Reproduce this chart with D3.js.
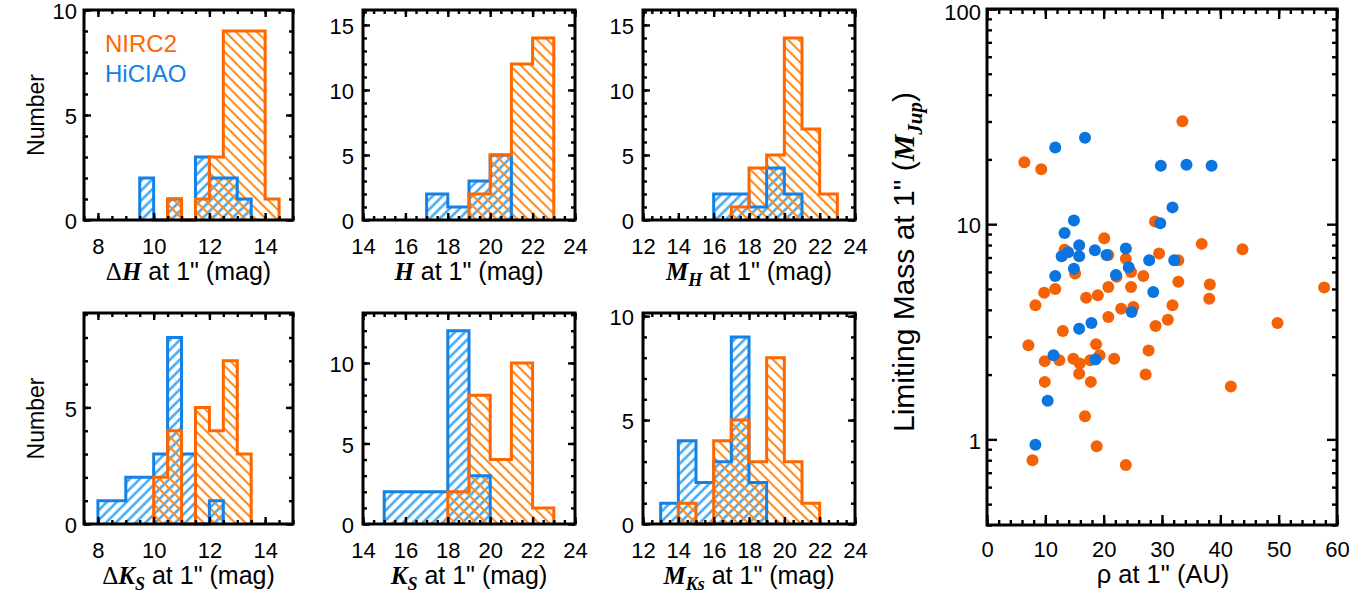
<!DOCTYPE html>
<html>
<head>
<meta charset="utf-8">
<script src="https://cdn.jsdelivr.net/npm/d3@7/dist/d3.min.js"></script>
<style>
  html, body { margin: 0; padding: 0; background: #fff; }
  svg { display: block; }
</style>
</head>
<body>
<svg id="fig" width="1364" height="595"></svg>
<script>
// ---------------- histogram data: bin edges and counts ----------------
// NIRC2 (orange) and HiCIAO (blue) contrast / sensitivity at 1"
const dHEdges  = [9.5, 10, 10.5, 11, 11.5, 12, 12.5, 13, 13.5, 14, 14.5];
const dHNirc2  = [0, 0, 1, 0, 1, 3, 9, 9, 9, 1];
const dHHiciao = [2, 0, 1, 0, 3, 2, 2, 1, 0, 0];

const hEdges   = [17, 18, 19, 20, 21, 22, 23];
const hNirc2   = [0, 0, 2, 5, 12, 14];
const hHiciao  = [2, 1, 3, 5, 0, 0];

const mhEdges  = [16, 17, 18, 19, 20, 21, 22, 23];
const mhNirc2  = [0, 1, 4, 5, 14, 7, 2];
const mhHiciao = [2, 2, 1, 4, 2, 0, 0];

const dKEdges  = [8, 8.5, 9, 9.5, 10, 10.5, 11, 11.5, 12, 12.5, 13, 13.5];
const dKNirc2  = [0, 0, 0, 0, 2, 4, 0, 5, 4, 7, 3];
const dKHiciao = [1, 1, 2, 2, 3, 8, 3, 0, 1, 0, 0];

const kEdges   = [15, 16, 17, 18, 19, 20, 21, 22, 23];
const kNirc2   = [0, 0, 0, 2, 8, 4, 10, 1];
const kHiciao  = [2, 2, 2, 12, 3, 0, 0, 0];

const mkEdges  = [13, 14, 15, 16, 17, 18, 19, 20, 21, 22];
const mkNirc2  = [0, 1, 0, 4, 5, 3, 8, 3, 1];
const mkHiciao = [1, 4, 2, 3, 9, 2, 0, 0, 0];

// axis ticks
const dTicks   = [8, 10, 12, 14];
const hTicks   = [14, 16, 18, 20, 22, 24];
const mTicks   = [12, 14, 16, 18, 20, 22, 24];
const yTicks10 = [0, 5, 10];
const yTicks15 = [0, 5, 10, 15];
const yTicks5  = [0, 5];

// ---------------- scatter: limiting mass vs projected separation ----------------
const nirc2Rho  = [6.4, 9.3, 33.5, 28.8, 20.1, 36.8, 43.8, 13.3, 20.8, 23.8, 29.5, 32.8, 15.1, 24.7,
                   22.2, 26.8, 32.8, 38.2, 57.8, 11.7, 9.8, 20.8, 24.7, 17.0, 19.0, 38.1, 8.3, 23.0,
                   25.1, 31.8, 20.8, 31.0, 49.8, 13.0, 28.9, 7.1, 18.7, 27.7, 9.9, 12.4, 14.8, 15.9,
                   17.7, 19.3, 21.8, 15.8, 27.2, 9.9, 17.8, 41.8, 16.8, 18.8, 7.8, 23.8];
const nirc2Mass = [19.4, 18.0, 30.1, 10.3, 8.6, 8.1, 7.65, 7.6, 7.2, 6.9, 7.3, 6.8, 5.9, 6.0,
                   5.7, 5.75, 5.4, 5.25, 5.08, 5.0, 4.8, 5.1, 5.1, 4.55, 4.67, 4.5, 4.2, 4.05,
                   4.12, 4.2, 3.7, 3.6, 3.47, 3.19, 3.36, 2.74, 2.77, 2.59, 2.31, 2.33, 2.37, 2.25,
                   2.33, 2.46, 2.37, 2.02, 2.0, 1.85, 1.85, 1.76, 1.28, 0.93, 0.80, 0.76];
const hiciaoRho  = [11.7, 16.8, 29.8, 34.2, 38.5, 31.8, 29.7, 14.9, 13.3, 15.8, 12.8, 13.9, 15.8, 18.5,
                    20.5, 23.8, 27.8, 32.1, 14.9, 24.3, 22.1, 11.7, 28.5, 24.8, 15.8, 17.9, 11.4, 18.6,
                    10.4, 8.3];
const hiciaoMass = [22.7, 25.2, 18.7, 18.9, 18.7, 11.97, 10.1, 10.4, 9.1, 7.98, 7.1, 7.4, 7.1, 7.57,
                    7.2, 7.7, 6.8, 6.8, 6.2, 6.3, 5.8, 5.75, 4.84, 3.91, 3.27, 3.47, 2.46, 2.35,
                    1.51, 0.945];
const rhoTicks  = [0, 10, 20, 30, 40, 50, 60];
const massTicks = [1, 10, 100];

// ---------------- styling ----------------
const SANS  = "'Liberation Sans', Arial, Helvetica, sans-serif";
const SERIF = "'Liberation Serif', 'Times New Roman', serif";
const ORANGE = "#ff6600", ORANGE_HATCH = "#ff8a1c";
const BLUE = "#1381e6", BLUE_HATCH = "#3aa4f4";
const PT_ORANGE = "#f46205", PT_BLUE = "#0a74e0";

const svg = d3.select("#fig");
const defs = svg.append("defs");

function hatchPattern(id, color, angle, spacing, width) {
  const p = defs.append("pattern")
    .attr("id", id)
    .attr("patternUnits", "userSpaceOnUse")
    .attr("width", spacing).attr("height", spacing)
    .attr("patternTransform", `rotate(${angle})`);
  p.append("line")
    .attr("x1", spacing / 2).attr("y1", -1)
    .attr("x2", spacing / 2).attr("y2", spacing + 1)
    .attr("stroke", color).attr("stroke-width", width);
}
hatchPattern("hatchOrange", ORANGE_HATCH, -45, 7.4, 2.1);
hatchPattern("hatchBlue", BLUE_HATCH, 45, 7.0, 2.4);

// Rich text: plain sans pieces, bold-italic serif symbols, subscripts
function richText(textSel, parts, baseSize) {
  let shift = 0;
  parts.forEach(p => {
    const ts = textSel.append("tspan").text(p.t);
    if (p.m) ts.attr("font-family", SERIF).attr("font-style", "italic").attr("font-weight", "bold");
    if (p.g) ts.attr("font-family", SERIF);
    const want = p.sub ? Math.round(baseSize * 0.25) : 0;
    if (want !== shift) { ts.attr("dy", want - shift); shift = want; }
    if (p.sub) ts.attr("font-size", Math.round(baseSize * 0.7));
  });
}

// Step outline points of a histogram (envelope from first to last non-empty bin)
function stepPoints(edges, counts) {
  const i0 = counts.findIndex(c => c > 0);
  const i1 = counts.length - 1 - [...counts].reverse().findIndex(c => c > 0);
  const pts = [[edges[i0], 0]];
  for (let i = i0; i <= i1; i++) {
    pts.push([edges[i], counts[i]], [edges[i + 1], counts[i]]);
  }
  pts.push([edges[i1 + 1], 0]);
  return pts;
}

function styleAxis(g, size) {
  g.select(".domain").remove();
  g.attr("font-family", SANS).attr("font-size", size);
  g.selectAll(".tick line").attr("stroke", "#000").attr("stroke-width", 2.4);
  g.selectAll(".tick text").attr("fill", "#000");
}

// Four-sided inward ticks with labels on left and bottom
function frameTicks(g, x, y, opt) {
  const [xl, xr] = x.range(), [yb, yt] = y.range();
  const none = () => "";
  const add = (axis, tx, ty) => {
    const a = g.append("g").attr("transform", `translate(${tx},${ty})`).call(axis);
    styleAxis(a, opt.fontSize);
    return a;
  };
  // minor
  add(d3.axisBottom(x).tickValues(opt.xMinor).tickSize(-opt.minLen).tickFormat(none), 0, yb);
  add(d3.axisTop(x).tickValues(opt.xMinor).tickSize(-opt.minLen).tickFormat(none), 0, yt);
  add(d3.axisLeft(y).tickValues(opt.yMinor).tickSize(-opt.minLen).tickFormat(none), xl, 0);
  add(d3.axisRight(y).tickValues(opt.yMinor).tickSize(-opt.minLen).tickFormat(none), xr, 0);
  // major
  add(d3.axisBottom(x).tickValues(opt.xMajor).tickSize(-opt.majLen).tickPadding(opt.xPad)
      .tickFormat(opt.xFormat), 0, yb);
  add(d3.axisTop(x).tickValues(opt.xMajor).tickSize(-opt.majLen).tickFormat(none), 0, yt);
  const left = add(d3.axisLeft(y).tickValues(opt.yMajor).tickSize(-opt.majLen).tickPadding(opt.yPad)
      .tickFormat(opt.yFormat), xl, 0);
  // a label right at the top of the page sits a hair lower so it stays on the page
  left.selectAll(".tick text").attr("dy", d => (y(d) < 9.5 ? "0.47em" : "0.4em"));
  add(d3.axisRight(y).tickValues(opt.yMajor).tickSize(-opt.majLen).tickFormat(none), xr, 0);
  g.append("rect")
    .attr("x", xl).attr("y", yt).attr("width", xr - xl).attr("height", yb - yt)
    .attr("fill", "none").attr("stroke", "#000").attr("stroke-width", 3);
}

function range(a, b, s) { const r = []; for (let v = a; v <= b + 1e-9; v += s) r.push(+v.toFixed(3)); return r; }

// ---------------- histogram panels ----------------
const colX = [[84, 293], [363, 575], [643, 855]];
const rowY = [[220, 10], [524, 313]];

const panels = [
  { col: 0, row: 0, edges: dHEdges, nirc2: dHNirc2, hiciao: dHHiciao, xDomain: [7.5, 15], yMax: 10,
    xTicks: dTicks, yTicks: yTicks10, yPad: 7,
    title: [{ t: "\u0394", g: true }, { t: "H", m: true }, { t: " at 1\" (mag)" }], ylabel: true, legend: true },
  { col: 1, row: 0, edges: hEdges, nirc2: hNirc2, hiciao: hHiciao, xDomain: [14, 24], yMax: 16.15,
    xTicks: hTicks, yTicks: yTicks15, yPad: 9,
    title: [{ t: "H", m: true }, { t: " at 1\" (mag)" }] },
  { col: 2, row: 0, edges: mhEdges, nirc2: mhNirc2, hiciao: mhHiciao, xDomain: [12, 24], yMax: 16.15,
    xTicks: mTicks, yTicks: yTicks15, yPad: 9,
    title: [{ t: "M", m: true }, { t: "H", m: true, sub: true }, { t: " at 1\" (mag)" }] },
  { col: 0, row: 1, edges: dKEdges, nirc2: dKNirc2, hiciao: dKHiciao, xDomain: [7.5, 15], yMax: 9.05,
    xTicks: dTicks, yTicks: yTicks5, yPad: 7,
    title: [{ t: "\u0394", g: true }, { t: "K", m: true }, { t: "S", m: true, sub: true }, { t: " at 1\" (mag)" }], ylabel: true },
  { col: 1, row: 1, edges: kEdges, nirc2: kNirc2, hiciao: kHiciao, xDomain: [14, 24], yMax: 13.1,
    xTicks: hTicks, yTicks: yTicks10, yPad: 9,
    title: [{ t: "K", m: true }, { t: "S", m: true, sub: true }, { t: " at 1\" (mag)" }] },
  { col: 2, row: 1, edges: mkEdges, nirc2: mkNirc2, hiciao: mkHiciao, xDomain: [12, 24], yMax: 10.15,
    xTicks: mTicks, yTicks: yTicks10, yPad: 9,
    title: [{ t: "M", m: true }, { t: "Ks", m: true, sub: true }, { t: " at 1\" (mag)" }] }
];

panels.forEach(p => {
  const [xl, xr] = colX[p.col], [yb, yt] = rowY[p.row];
  const x = d3.scaleLinear().domain(p.xDomain).range([xl, xr]);
  const y = d3.scaleLinear().domain([0, p.yMax]).range([yb, yt]);
  const g = svg.append("g");
  const line = d3.line().x(d => x(d[0])).y(d => y(d[1]));

  const blue = stepPoints(p.edges, p.hiciao);
  const orange = stepPoints(p.edges, p.nirc2);

  g.append("path").attr("d", line(blue) + "Z").attr("fill", "url(#hatchBlue)").attr("stroke", "none");
  g.append("path").attr("d", line(orange) + "Z").attr("fill", "url(#hatchOrange)").attr("stroke", "none");
  g.append("path").attr("d", line(blue)).attr("fill", "none").attr("stroke", BLUE)
    .attr("stroke-width", 3).attr("stroke-linejoin", "miter");
  g.append("path").attr("d", line(orange)).attr("fill", "none").attr("stroke", ORANGE)
    .attr("stroke-width", 3).attr("stroke-linejoin", "miter");

  const xMin = Math.ceil(p.xDomain[0] * 2) / 2;
  frameTicks(g, x, y, {
    xMajor: p.xTicks, xMinor: range(xMin, p.xDomain[1], 0.5),
    yMajor: p.yTicks, yMinor: range(0, Math.floor(p.yMax), 1),
    majLen: 7, minLen: 4, xPad: 18, yPad: p.yPad, fontSize: 22,
    xFormat: d3.format("d"), yFormat: d3.format("d")
  });

  const t = g.append("text")
    .attr("x", (xl + xr) / 2).attr("y", yb + 60)
    .attr("text-anchor", "middle").attr("font-family", SANS).attr("font-size", 25);
  richText(t, p.title, 25);

  if (p.ylabel) {
    g.append("text")
      .attr("transform", `translate(44,${(yb + yt) / 2}) rotate(-90)`)
      .attr("text-anchor", "middle").attr("font-family", SANS).attr("font-size", 23)
      .text("Number");
  }
  if (p.legend) {
    g.append("text").attr("x", 105).attr("y", 52).attr("font-family", SANS)
      .attr("font-size", 24).attr("fill", ORANGE).text("NIRC2");
    g.append("text").attr("x", 105).attr("y", 82).attr("font-family", SANS)
      .attr("font-size", 24).attr("fill", BLUE).text("HiCIAO");
  }
});

// ---------------- scatter panel ----------------
(function () {
  const x = d3.scaleLinear().domain([0, 60]).range([987, 1337]);
  const y = d3.scaleLog().domain([0.4, 100]).range([525, 9]);
  const g = svg.append("g");

  const nirc2 = nirc2Rho.map((r, i) => [r, nirc2Mass[i]]);
  const hiciao = hiciaoRho.map((r, i) => [r, hiciaoMass[i]]);

  g.append("g").selectAll("circle").data(nirc2).join("circle")
    .attr("cx", d => x(d[0])).attr("cy", d => y(d[1])).attr("r", 6).attr("fill", PT_ORANGE);
  g.append("g").selectAll("circle").data(hiciao).join("circle")
    .attr("cx", d => x(d[0])).attr("cy", d => y(d[1])).attr("r", 6).attr("fill", PT_BLUE);

  const yMinor = [0.4, 0.5, 0.6, 0.7, 0.8, 0.9, 2, 3, 4, 5, 6, 7, 8, 9, 20, 30, 40, 50, 60, 70, 80, 90];
  frameTicks(g, x, y, {
    xMajor: rhoTicks, xMinor: range(0, 60, 2),
    yMajor: massTicks, yMinor: yMinor,
    majLen: 10, minLen: 5, xPad: 16, yPad: 6, fontSize: 22,
    xFormat: d3.format("d"), yFormat: d3.format("d")
  });

  g.append("text").attr("x", 1163).attr("y", 583).attr("text-anchor", "middle")
    .attr("font-family", SANS).attr("font-size", 25.5).text("\u03c1 at 1\" (AU)");

  const yl = g.append("text")
    .attr("transform", "translate(914,262) rotate(-90)")
    .attr("text-anchor", "middle").attr("font-family", SANS).attr("font-size", 30);
  richText(yl, [{ t: "Limiting Mass at 1\" (" }, { t: "M", m: true }, { t: "Jup", m: true, sub: true }, { t: ")" }], 30);
})();
</script>
</body>
</html>
